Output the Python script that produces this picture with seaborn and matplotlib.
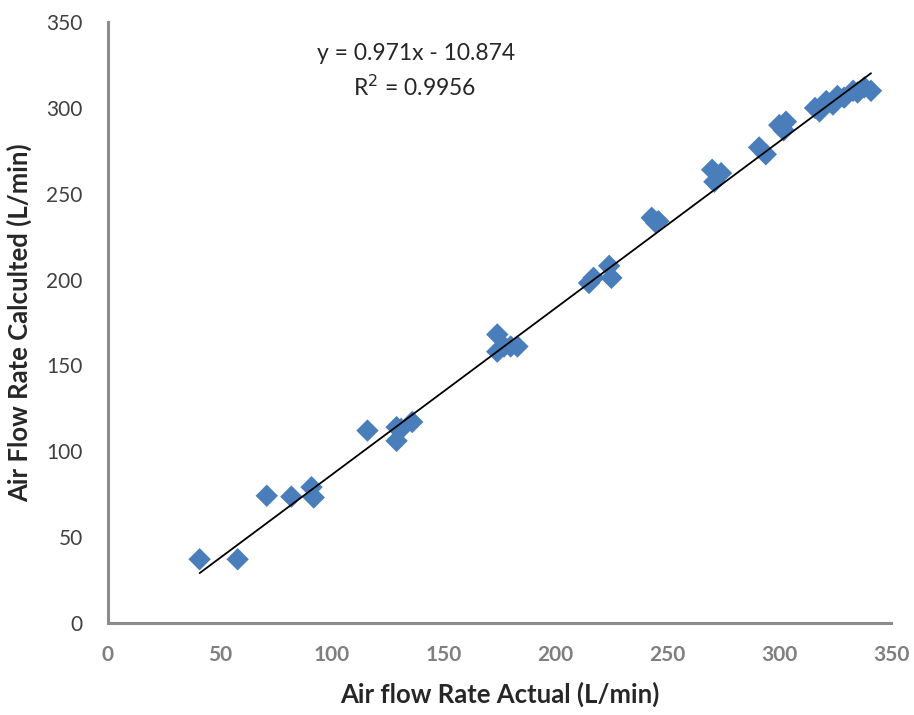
# Air flow rate: calculated vs actual, with linear trendline
import numpy as np
import pandas as pd
import matplotlib
matplotlib.use("Agg")
import matplotlib.pyplot as plt
import seaborn as sns

# data
actual = [41, 58, 71, 82, 91, 92, 116, 129, 131, 129, 136,
          174, 174, 177, 180, 183, 215, 217, 224, 225,
          243, 245, 246, 270, 271, 274, 291, 294, 300, 302, 303,
          316, 318, 321, 324, 326, 329, 333, 335, 338, 341]
calculated = [37, 37, 74, 73.5, 79, 73, 112, 114, 113, 106, 117,
              168, 158, 161, 161, 161, 198, 201, 208, 201,
              236, 233, 234, 264, 257, 262, 277, 273, 290, 287, 292,
              300, 298, 304, 302, 307, 306, 310, 309, 312, 310]
slope = 0.971
intercept = -10.874
r_squared = 0.9956
ticks = [0, 50, 100, 150, 200, 250, 300, 350]

df = pd.DataFrame({"actual": actual, "calculated": calculated})
x_fit = np.array([min(actual), max(actual)])
fit = pd.DataFrame({"actual": x_fit, "calculated": slope * x_fit + intercept})

sns.set_style("white")
plt.rcParams["font.family"] = ["Lato", "DejaVu Sans"]

fig = plt.figure(figsize=(9.14, 7.15), dpi=100)
ax = fig.add_axes([0.118, 0.129, 0.857, 0.840])

sns.scatterplot(data=df, x="actual", y="calculated", marker="D", s=130,
                color="#4a7ebb", edgecolor="none", ax=ax, zorder=2)
sns.lineplot(data=fit, x="actual", y="calculated", color="black",
             linewidth=1.3, ax=ax, zorder=3)

ax.set_xlim(0, 350)
ax.set_ylim(0, 350)
ax.set_xticks(ticks)
ax.set_yticks(ticks)
ax.tick_params(axis="both", length=0, labelsize=15)
ax.tick_params(axis="x", pad=16, labelcolor="#7f7f7f")
ax.tick_params(axis="y", pad=18, labelcolor="#404040")
for lab in ax.get_xticklabels():
    lab.set_fontweight("bold")

sns.despine(ax=ax)
for side in ["left", "bottom"]:
    ax.spines[side].set_color("#8c8c8c")
    ax.spines[side].set_linewidth(2.2)

ax.set_xlabel("Air flow Rate Actual (L/min)", fontsize=18.5, fontweight="bold",
              color="#262626", labelpad=12)
ax.set_ylabel("Air Flow Rate Calculted (L/min)", fontsize=18.5, fontweight="bold",
              color="#262626", labelpad=10)

ax.text(0.393, 0.948, f"y = {slope}x - {abs(intercept)}", transform=ax.transAxes,
        ha="center", va="center", fontsize=16.5, color="#262626")
ax.text(0.392, 0.892, f"R$^2$ = {r_squared}", transform=ax.transAxes,
        ha="center", va="center", fontsize=16.5, color="#262626")

fig.savefig("out.png", dpi=100)
